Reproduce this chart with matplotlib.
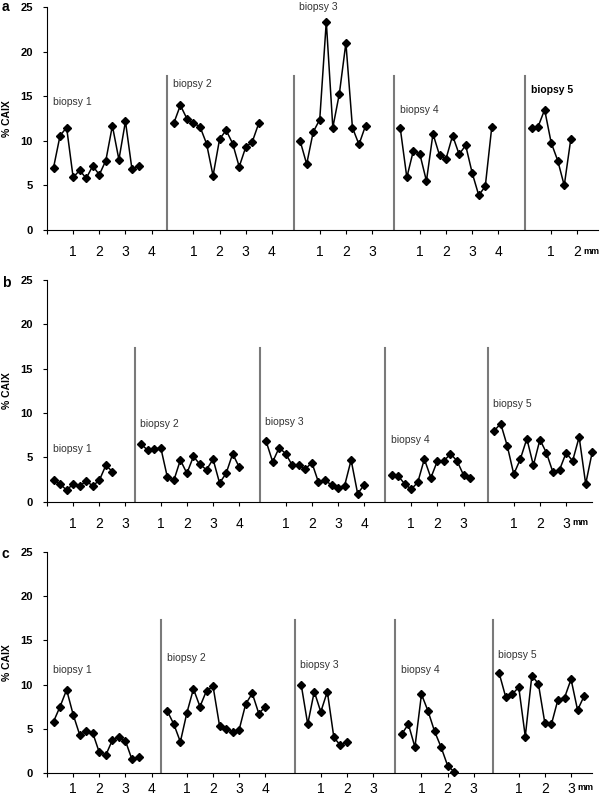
import matplotlib
matplotlib.use("Agg")
import matplotlib.pyplot as plt

plt.rcParams["font.family"] = ["Liberation Sans", "DejaVu Sans"]

# % CAIX along each biopsy, one value every 0.25 mm
a_biopsy1 = [7.0, 10.6, 11.5, 5.9, 6.7, 5.8, 7.2, 6.2, 7.8, 11.7, 7.9, 12.2, 6.8, 7.2]
a_biopsy2 = [12.0, 14.0, 12.5, 12.0, 11.6, 9.7, 6.1, 10.2, 11.2, 9.7, 7.1, 9.3, 9.9, 12.0]
a_biopsy3 = [10.0, 7.4, 11.0, 12.4, 23.4, 11.5, 15.3, 21.0, 11.5, 9.6, 11.7]
a_biopsy4 = [11.4, 5.9, 8.9, 8.5, 5.5, 10.8, 8.4, 8.0, 10.6, 8.5, 9.5, 6.4, 3.9, 4.9, 11.6]
a_biopsy5 = [11.5, 11.6, 13.5, 9.8, 7.8, 5.0, 10.2]

b_biopsy1 = [2.4, 2.0, 1.3, 2.0, 1.8, 2.3, 1.8, 2.4, 4.1, 3.4]
b_biopsy2 = [6.5, 5.8, 5.9, 6.1, 2.8, 2.4, 4.7, 3.2, 5.1, 4.2, 3.6, 4.8, 2.1, 3.2, 5.4, 3.9]
b_biopsy3 = [6.8, 4.5, 6.1, 5.4, 4.1, 4.1, 3.7, 4.4, 2.2, 2.4, 1.9, 1.6, 1.8, 4.7, 0.9, 1.9]
b_biopsy4 = [3.0, 2.9, 2.0, 1.4, 2.2, 4.8, 2.7, 4.6, 4.6, 5.4, 4.6, 3.0, 2.7]
b_biopsy5 = [8.0, 8.8, 6.3, 3.1, 4.8, 7.1, 4.1, 7.0, 5.5, 3.3, 3.6, 5.5, 4.6, 7.3, 2.0, 5.6]

c_biopsy1 = [5.8, 7.5, 9.4, 6.6, 4.3, 4.7, 4.5, 2.3, 2.0, 3.7, 4.0, 3.6, 1.5, 1.8]
c_biopsy2 = [7.0, 5.5, 3.5, 6.8, 9.5, 7.5, 9.3, 9.8, 5.3, 5.0, 4.6, 4.9, 7.8, 9.0, 6.7, 7.5]
c_biopsy3 = [10.0, 5.5, 9.2, 6.9, 9.2, 4.0, 3.1, 3.5]
c_biopsy4 = [4.4, 5.5, 2.9, 8.9, 7.0, 4.7, 2.9, 0.8, 0.1]
c_biopsy5 = [11.3, 8.6, 8.9, 9.7, 4.1, 11.0, 10.1, 5.6, 5.5, 8.3, 8.5, 10.6, 7.1, 8.7]

biopsy_names = ["biopsy 1", "biopsy 2", "biopsy 3", "biopsy 4", "biopsy 5"]

# where each biopsy starts on the mm axis, axis end, and mm ticks per biopsy
a_starts = [0, 4.60, 9.43, 13.26, 18.28]
b_starts = [0, 3.35, 8.13, 12.93, 16.85]
c_starts = [0, 4.35, 9.47, 13.32, 17.04]
a_end, b_end, c_end = 21.07, 20.85, 20.85
a_ticks = [4, 4, 3, 4, 2]
b_ticks = [3, 4, 4, 3, 3]
c_ticks = [4, 4, 3, 3, 3]

# height of the "biopsy n" labels
a_label_y = [14.4, 16.4, 25.0, 13.45, 15.7]
b_label_y = [5.9, 8.8, 9.0, 7.0, 11.0]
c_label_y = [11.6, 13.0, 12.25, 11.6, 13.4]

step = 0.25
divider_top = 17.3


def draw_panel(ax, series, starts, end, nticks, label_y, bold_label, xpad):
    for i, vals in enumerate(series):
        s = starts[i]
        xs = [s + step * (k + 1) for k in range(len(vals))]
        ax.plot(xs, vals, color="black", lw=1.1, marker="D", ms=3.6,
                clip_on=False, zorder=3)
        if i > 0:
            ax.plot([s, s], [0, divider_top], color="#7a7a7a", lw=1.5, zorder=2)
        bold = (i == bold_label)
        ax.text(s + 0.22, label_y[i], biopsy_names[i], fontsize=7.5,
                color="black" if bold else "#333333",
                fontweight="bold" if bold else "normal",
                va="center", ha="left", clip_on=False)

    ticks, labels = [0], [""]
    for s, n in zip(starts, nticks):
        for k in range(1, n + 1):
            ticks.append(s + k)
            labels.append(str(k))
    ax.set_xticks(ticks)
    ax.set_xticklabels(labels, fontsize=10)
    ax.annotate("mm", xy=(ticks[-1], 0), xycoords=("data", "axes fraction"),
                xytext=(4.5, -9 - xpad), textcoords="offset points",
                fontsize=6.5, fontweight="bold", ha="left", va="baseline")

    ax.set_xlim(0, end)
    ax.set_ylim(0, 25)
    ax.set_yticks([0, 5, 10, 15, 20, 25])
    for t in ax.get_yticklabels():
        t.set_fontweight("bold")
        t.set_fontsize(8)
    ax.tick_params(axis="x", direction="out", length=3, width=0.8, pad=xpad)
    ax.tick_params(axis="y", direction="out", length=3, width=0.8, pad=7)
    ax.spines["top"].set_visible(False)
    ax.spines["right"].set_visible(False)
    ax.spines["left"].set_linewidth(0.8)
    ax.spines["bottom"].set_linewidth(0.8)
    ax.patch.set_visible(False)


fig = plt.figure(figsize=(6, 7.99), dpi=100)

W, H = 600, 799
px_per_mm = 26.15
left = 47

panels = [
    ("a", [a_biopsy1, a_biopsy2, a_biopsy3, a_biopsy4, a_biopsy5], a_starts, a_end,
     a_ticks, a_label_y, 4, 7.3, 230, 10.7, 8),
    ("b", [b_biopsy1, b_biopsy2, b_biopsy3, b_biopsy4, b_biopsy5], b_starts, b_end,
     b_ticks, b_label_y, None, 280, 501.7, 287.3, 8),
    ("c", [c_biopsy1, c_biopsy2, c_biopsy3, c_biopsy4, c_biopsy5], c_starts, c_end,
     c_ticks, c_label_y, None, 552.3, 772.7, 558.3, 3.5),
]

for letter, series, starts, end, nticks, label_y, bold, top, bottom, letter_y, xpad in panels:
    ax = fig.add_axes([left / W, 1 - bottom / H, end * px_per_mm / W, (bottom - top) / H])
    draw_panel(ax, series, starts, end, nticks, label_y, bold, xpad)
    fig.text(2 / W, 1 - letter_y / H, letter, fontsize=10, fontweight="bold",
             ha="left", va="baseline")
    fig.text(7 / W, 1 - (top + bottom) / 2 / H, "% CAIX", fontsize=7.5,
             fontweight="bold", rotation=90, ha="center", va="center")

fig.savefig("out.png", dpi=100)
